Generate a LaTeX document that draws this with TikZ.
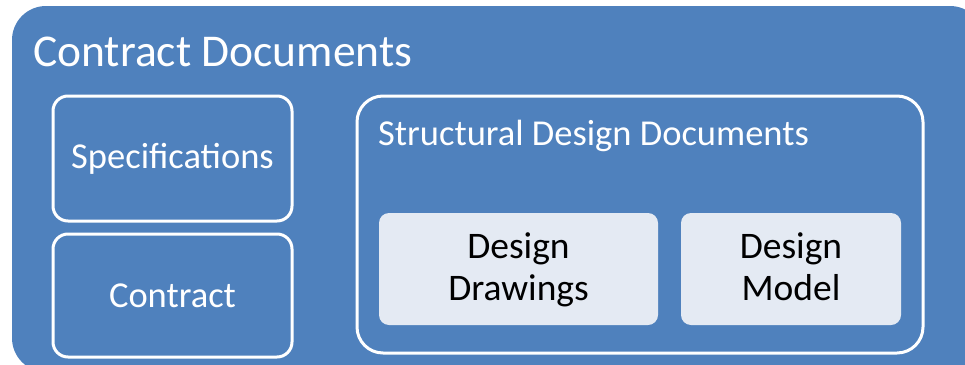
\documentclass[tikz,border=0pt]{standalone}
\usepackage{fontspec}
\setmainfont{Carlito}
\definecolor{obblue}{HTML}{4F81BD}
\definecolor{lightfill}{HTML}{E4EAF3}
\begin{document}
\begin{tikzpicture}[x=1pt,y=-1pt,
  outerbox/.style={fill=obblue,draw=none,rounded corners=34pt},
  whitebox/.style={draw=white,line width=3pt,fill=obblue,rounded corners=#1},
  lightbox/.style={fill=lightfill,draw=none,rounded corners=10pt},
  lbl/.style={text=white,inner sep=0pt},
  mid/.style={font=\fontsize{36.5}{42}\selectfont},
  dlbl/.style={text=black,inner sep=0pt,anchor=base,font=\fontsize{37.5}{42}\selectfont}]
\useasboundingbox (0,0) rectangle (965,364);
\begin{scope}
\clip (0,0) rectangle (965,364);
\path[outerbox] (12,6) rectangle (984,372);
\end{scope}
\node[lbl,anchor=base west,font=\fontsize{45.5}{55}\selectfont] (title) at (33,66) {Contract Documents};
\path[whitebox=15pt] (53,96) rectangle (292,221);
\node[lbl,mid] (spec) at (172.5,158.5) {Specifications};
\path[whitebox=15pt] (53,234) rectangle (292,357);
\node[lbl,mid] (contract) at (172.5,295.5) {Contract};
\path[whitebox=26pt] (357,96) rectangle (923,353);
\node[lbl,mid,anchor=base west] (sdd) at (378,145) {Structural Design Documents};
\path[lightbox] (379,213) rectangle (658,325);
\node[dlbl] (dd1) at (518.5,258) {Design};
\node[dlbl] (dd2) at (518.5,300) {Drawings};
\path[lightbox] (681,213) rectangle (901,325);
\node[dlbl] (dm1) at (791,258) {Design};
\node[dlbl] (dm2) at (791,300) {Model};
\end{tikzpicture}
\end{document}
